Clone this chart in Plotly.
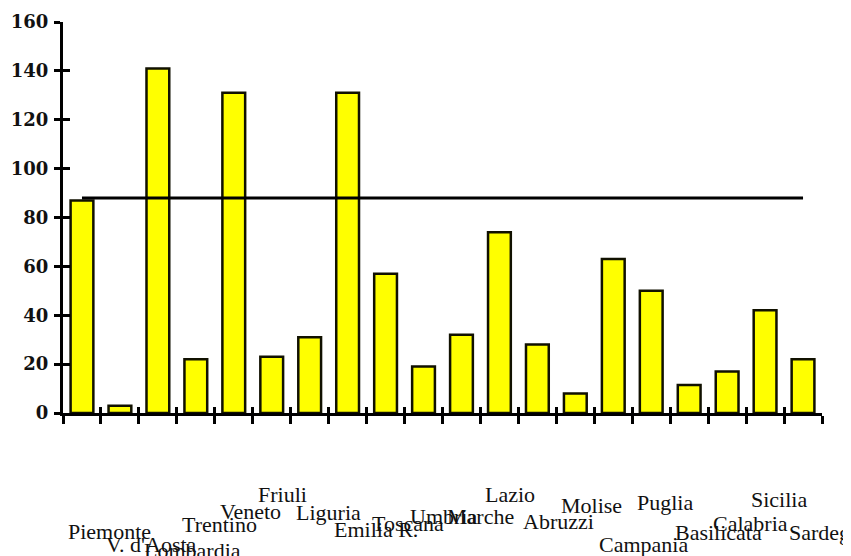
import plotly.graph_objects as go

regions = ["Piemonte", "V. d'Aosta", "Lombardia", "Trentino", "Veneto", "Friuli",
           "Liguria", "Emilia R.", "Toscana", "Umbria", "Marche", "Lazio",
           "Abruzzi", "Molise", "Campania", "Puglia", "Basilicata", "Calabria",
           "Sicilia", "Sardegna"]
values = [87, 3, 141, 22, 131, 23, 31, 131, 57, 19, 32, 74, 28, 8, 63, 50, 11.5, 17, 42, 22]
average = 88
y_ticks = [0, 20, 40, 60, 80, 100, 120, 140, 160]

# vertical pixel offsets of the staggered category labels (layout only)
label_drop = [118, 131, 137, 111, 98, 81, 99, 116, 110, 103, 103, 81,
              108, 92, 131, 89, 119, 110, 86, 119]

fig = go.Figure()
fig.add_trace(go.Bar(
    x=regions, y=values,
    marker=dict(color="#FFFF00", line=dict(color="#111100", width=2.5)),
    showlegend=False, hoverinfo="x+y"))
fig.add_trace(go.Scatter(
    x=regions, y=[average] * len(regions), mode="lines",
    line=dict(color="black", width=3), showlegend=False))
fig.add_trace(go.Scatter(x=[], y=[], xaxis="x2", yaxis="y2", showlegend=False))

annotations = []
for r, d in zip(regions, label_drop):
    annotations.append(dict(
        x=r, xref="x", y=0, yref="paper", text=r, showarrow=False,
        xanchor="left", yanchor="middle", xshift=-16, yshift=-d,
        font=dict(family="Liberation Serif", size=22, color="#111")))

fig.update_layout(
    width=851, height=556,
    margin=dict(l=55, r=37, t=14, b=151),
    paper_bgcolor="white", plot_bgcolor="white",
    bargap=0.4,
    annotations=annotations,
    xaxis=dict(type="category", range=[-0.5, 19.5], showticklabels=False,
               ticks="outside", tickson="boundaries", ticklen=8, tickwidth=3,
               tickcolor="black", showline=True, linecolor="black", linewidth=3,
               showgrid=False, zeroline=False, fixedrange=True, automargin=False),
    yaxis=dict(range=[0, 160], tickvals=y_ticks, ticks="outside", ticklen=6,
               tickwidth=3, tickcolor="black", showline=True, linecolor="black",
               linewidth=3, showgrid=False, zeroline=False, automargin=False,
               ticklabelstandoff=2,
               tickfont=dict(family="DejaVu Serif", size=18, color="#111",
                             weight="bold")),
    xaxis2=dict(overlaying="x", anchor="y2", range=[-0.5, 19.5], tick0=-0.5,
                dtick=1, ticks="inside", ticklen=6, tickwidth=3,
                tickcolor="black", showticklabels=False, showgrid=False,
                zeroline=False, showline=False, automargin=False),
    yaxis2=dict(overlaying="y", anchor="x2", range=[0, 160], tickvals=y_ticks,
                ticks="inside", ticklen=7, tickwidth=3, tickcolor="black",
                showticklabels=False, showgrid=False, zeroline=False,
                showline=False, automargin=False),
)

fig.write_html("out.html")
